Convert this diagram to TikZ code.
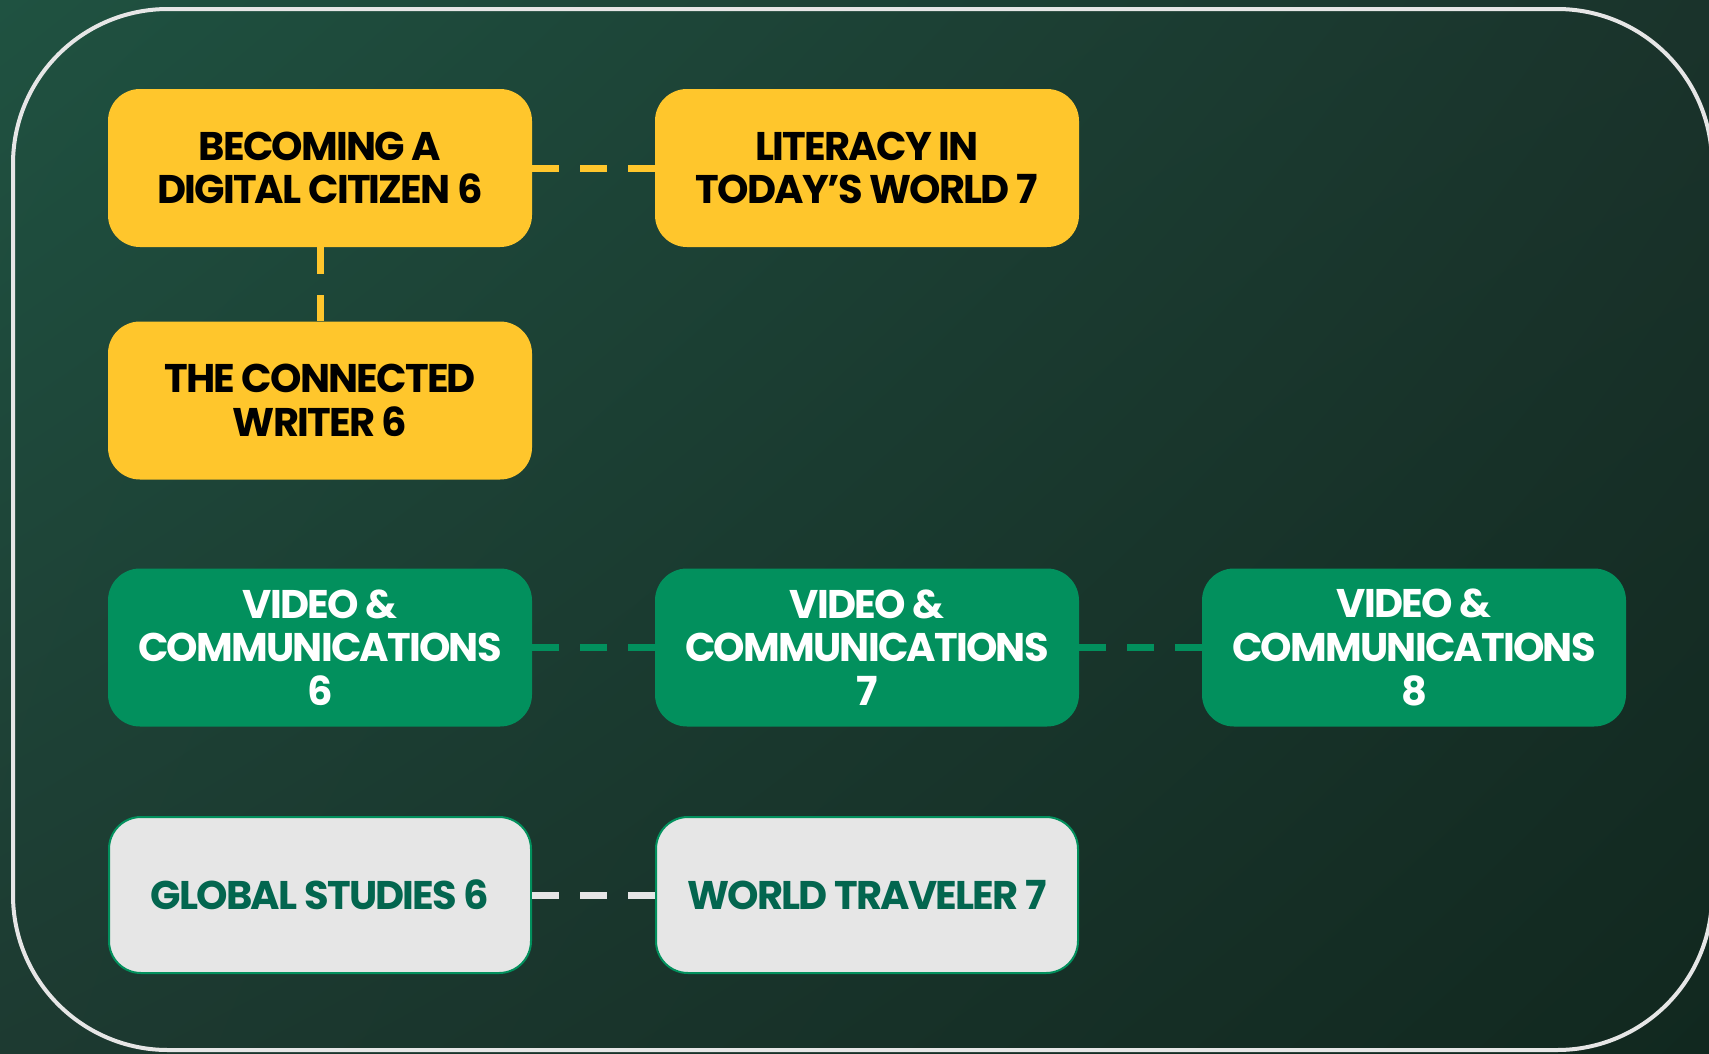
\documentclass[tikz,border=0pt]{standalone}
\usepackage{fontspec}
\setmainfont{Poppins}
\newfontfamily\poptight{Poppins}[LetterSpace=-4.5]
\usetikzlibrary{shadings}
\definecolor{ylw}{HTML}{FFC62C}
\definecolor{grn}{HTML}{02905D}
\definecolor{lgray}{HTML}{E6E6E6}
\definecolor{dgtxt}{HTML}{03664F}
\definecolor{bgA}{HTML}{1F5241}
\definecolor{bgB}{HTML}{1A332B}
\definecolor{bgC}{HTML}{1D3A31}
\definecolor{bgD}{HTML}{11281F}
\begin{document}
\begin{tikzpicture}[x=1pt,y=-1pt,
  box/.style={rounded corners=32pt, minimum width=424pt, minimum height=158pt,
    inner sep=0pt, align=center, font=\poptight\fontsize{40}{43.6}\selectfont\bfseries},
  ybox/.style={box, fill=ylw, text=black},
  gbox/.style={box, fill=grn, text=white},
  wbox/.style={box, fill=lgray, draw=grn, line width=2pt, text=dgtxt, minimum width=422pt, minimum height=156pt},
  conn/.style={line width=7pt, dash pattern=on 27pt off 21pt},
]
\useasboundingbox (0,0) rectangle (1709,1053);
\shade[upper left=bgA, upper right=bgB, lower left=bgC, lower right=bgD] (0,0) rectangle (1709,1053);
\draw[lgray, line width=4pt, rounded corners=155pt] (13,9) rectangle (1712,1050);

\node[ybox] (b1) at (320,168) {BECOMING A\\DIGITAL CITIZEN 6};
\node[ybox] (b2) at (867,168) {LITERACY IN\\TODAY’S WORLD 7};
\node[ybox] (b3) at (320,400.5) {THE CONNECTED\\WRITER 6};
\node[gbox] (v6) at (320,647.5) {VIDEO \&\\COMMUNICATIONS\\6};
\node[gbox] (v7) at (867,647.5) {VIDEO \&\\COMMUNICATIONS\\7};
\node[gbox] (v8) at (1414,647.5) {VIDEO \&\\COMMUNICATIONS\\8};
\node[wbox] (g6) at (320,895) {GLOBAL STUDIES 6};
\node[wbox] (w7) at (867,895) {WORLD TRAVELER 7};

\draw[conn, ylw] (b1.east) -- (b2.west);
\draw[conn, ylw] (b1.south) -- (b3.north);
\draw[conn, grn] (v6.east) -- (v7.west);
\draw[conn, grn] (v7.east) -- (v8.west);
\draw[conn, lgray] (g6.east) -- (w7.west);
\end{tikzpicture}
\end{document}
